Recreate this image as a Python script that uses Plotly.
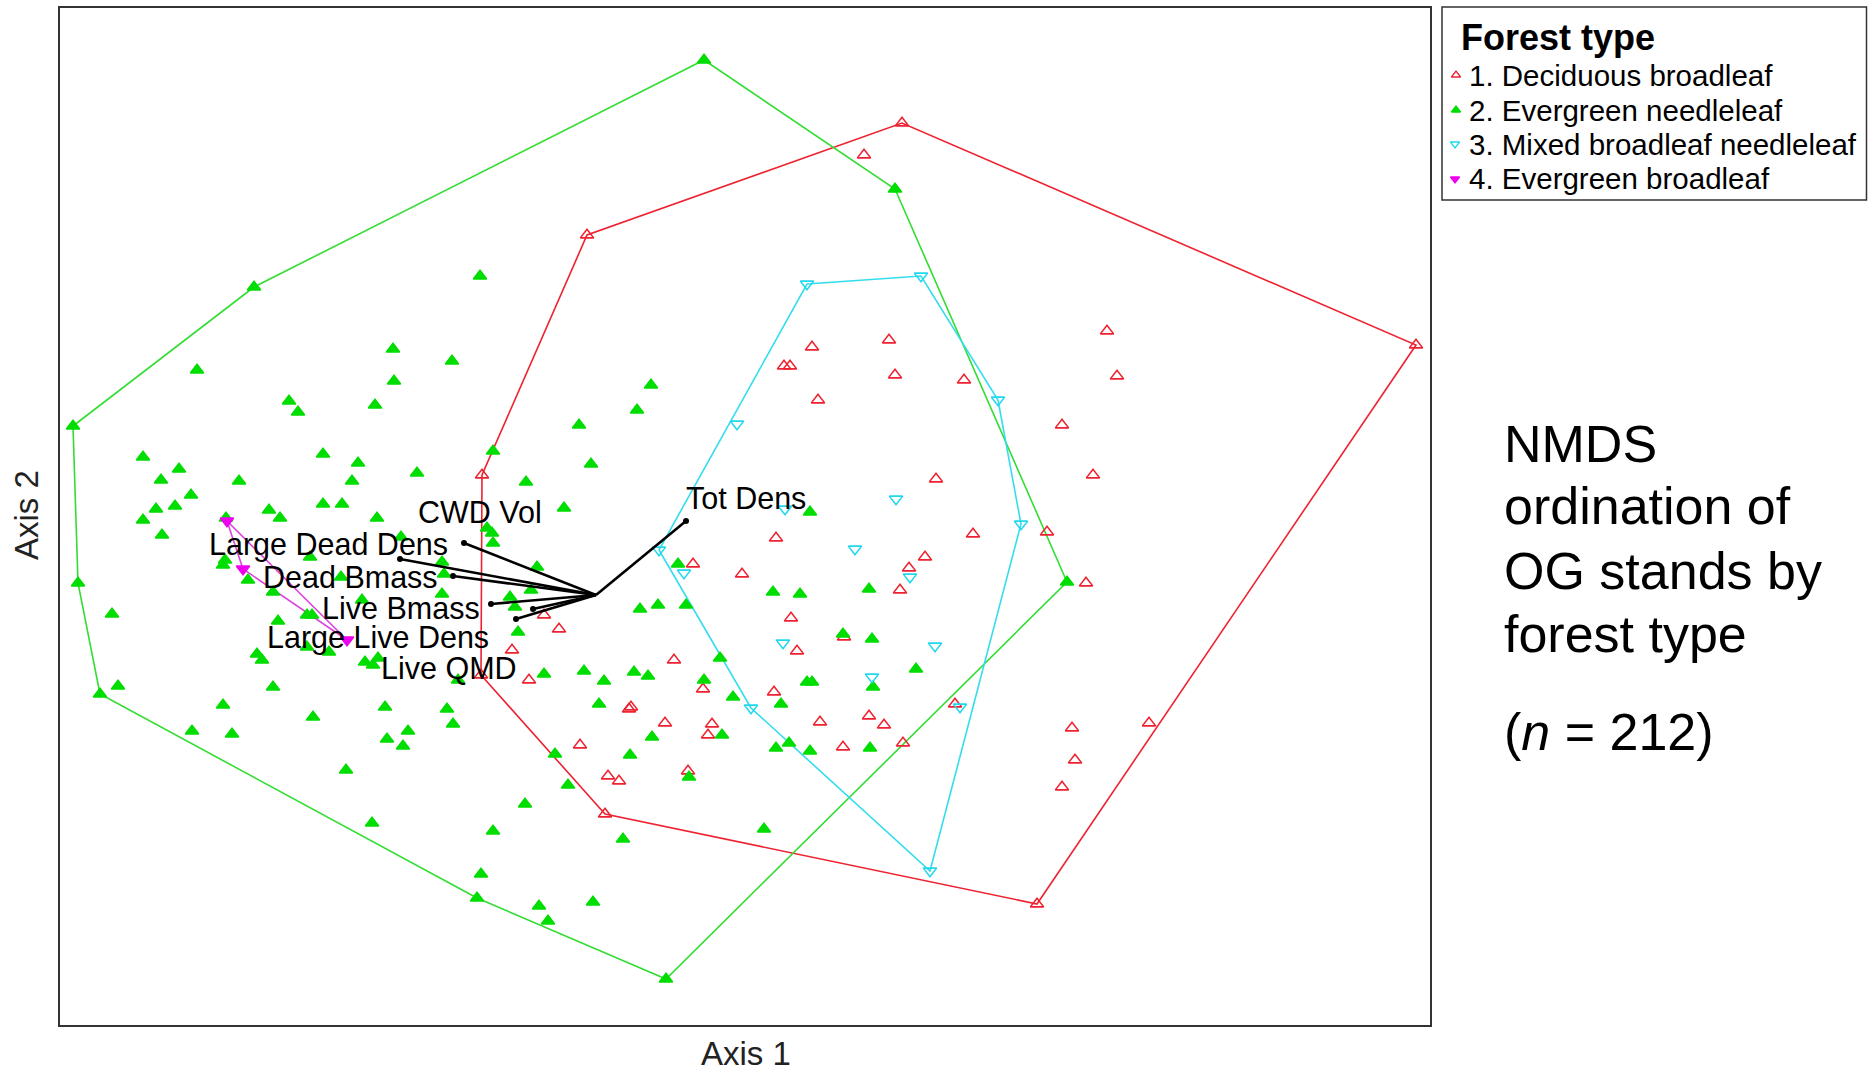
import plotly.graph_objects as go

W, H = 1868, 1072
FONT = "Liberation Sans, Arial, sans-serif"

# ---- NMDS site scores (axis 1, axis 2), grouped by forest type ----
decid_ax1 = [842, 804, 527, 829, 752, 1047, 1356, 1057, 1002, 1033,
             987, 913, 1026, 1012, 1089, 1015, 1002, 977, 724, 730,
             835, 904, 758, 876, 716, 865, 849, 840, 682, 633,
             731, 737, 784, 614, 469, 484, 499, 452, 422, 421,
             714, 643, 569, 571, 605, 652, 648, 520, 760, 809,
             824, 783, 843, 895, 548, 559, 628, 545]
decid_ax2 = [902, 870, 790, 685, 678, 694, 680, 649, 600, 550,
             493, 491, 442, 297, 302, 265, 238, 121, 659, 659,
             650, 645, 625, 546, 487, 468, 457, 435, 451, 461,
             407, 374, 388, 365, 345, 410, 396, 375, 550, 350,
             333, 336, 316, 318, 302, 301, 290, 280, 303, 309,
             300, 278, 282, 321, 249, 244, 254, 211]

needle_ax1 = [644, 835, 194, 420, 13, 137, 333, 392, 334, 229,
              238, 315, 83, 263, 298, 119, 101, 179, 292, 357,
              433, 131, 96, 115, 83, 102, 209, 220, 263, 282,
              317, 166, 427, 432, 433, 341, 165, 163, 188, 213,
              250, 382, 384, 281, 382, 247, 252, 302, 218, 450,
              455, 458, 247, 269, 197, 202, 305, 313, 318, 398,
              52, 18, 58, 213, 40, 163, 132, 172, 253, 325,
              387, 348, 327, 343, 393, 286, 312, 433, 421, 417,
              606, 479, 533, 488, 563, 704, 465, 508, 495, 570,
              629, 592, 662, 539, 673, 721, 729, 716, 750, 810,
              813, 747, 752, 644, 544, 524, 484, 574, 588, 660,
              856, 812, 783, 713, 740, 809, 580, 598, 626, 618,
              477, 471, 466, 504, 531, 519, 577, 591, 750, 1007]
needle_ax2 = [965, 836, 738, 749, 599, 655, 676, 664, 644, 624,
              613, 620, 568, 571, 562, 556, 545, 544, 544, 552,
              574, 530, 516, 519, 505, 490, 515, 507, 521, 521,
              507, 507, 497, 492, 482, 488, 465, 460, 445, 433,
              468, 463, 451, 448, 431, 410, 410, 425, 404, 428,
              418, 393, 378, 373, 371, 365, 363, 360, 367, 345,
              411, 442, 339, 338, 331, 320, 294, 291, 308, 318,
              316, 294, 286, 279, 301, 255, 202, 194, 151, 127,
              46, 119, 123, 104, 186, 196, 221, 240, 271, 270,
              248, 288, 290, 321, 328, 321, 282, 277, 274, 277,
              338, 343, 343, 345, 344, 354, 351, 353, 349, 367,
              356, 386, 391, 433, 431, 436, 416, 420, 420, 461,
              458, 435, 543, 517, 561, 600, 615, 640, 513, 443]

mixed_ax1 = [747, 861, 938, 961, 870, 691, 599, 677, 836, 725,
             795, 850, 624, 723, 875, 812, 900]
mixed_ax2 = [741, 749, 625, 501, 154, 317, 475, 601, 526, 516,
             476, 448, 452, 382, 379, 348, 318]

everbroad_ax1 = [167, 183, 287]
everbroad_ax2 = [504, 456, 385]

group_names = ["1. Deciduous broadleaf", "2. Evergreen needleleaf",
               "3. Mixed broadleaf needleleaf", "4. Evergreen broadleaf"]

# ---- structural variable vectors (joint plot) ----
vec_origin = (536, 430)
vec_names = ["Tot Dens", "CWD Vol", "Large Dead Dens", "Dead Bmass",
             "Live Bmass", "Large Live Dens", "Live QMD"]
vec_ax1 = [626, 404, 340, 393, 431, 456, 473]
vec_ax2 = [504, 482, 466, 449, 421, 406, 416]

n_plots = 212

# ---- styling ----
styles = [
    dict(symbol="triangle-up-open", color="#EE2230", line="#EE2230"),
    dict(symbol="triangle-up", color="#00DD00", line="#33DD33"),
    dict(symbol="triangle-down-open", color="#22D8EE", line="#33DDEE"),
    dict(symbol="triangle-down", color="#EE00EE", line="#DD44DD"),
]
# label placement relative to vector tips (pixels)
label_shift = {
    "Tot Dens": (60, 23), "CWD Vol": (16, 31), "Large Dead Dens": (-72, 15),
    "Dead Bmass": (-103, -1), "Live Bmass": (-90, -4),
    "Large Live Dens": (-138, -18), "Live QMD": (-84, -59),
}


def convex_hull(xs, ys):
    pts = sorted(set(zip(xs, ys)))
    if len(pts) < 3:
        return [p[0] for p in pts], [p[1] for p in pts]

    def cross(o, a, b):
        return (a[0] - o[0]) * (b[1] - o[1]) - (a[1] - o[1]) * (b[0] - o[0])

    lower, upper = [], []
    for p in pts:
        while len(lower) >= 2 and cross(lower[-2], lower[-1], p) <= 0:
            lower.pop()
        lower.append(p)
    for p in reversed(pts):
        while len(upper) >= 2 and cross(upper[-2], upper[-1], p) <= 0:
            upper.pop()
        upper.append(p)
    ring = lower[:-1] + upper[:-1]
    ring.append(ring[0])
    return [p[0] for p in ring], [p[1] for p in ring]


groups = [(decid_ax1, decid_ax2), (needle_ax1, needle_ax2),
          (mixed_ax1, mixed_ax2), (everbroad_ax1, everbroad_ax2)]

fig = go.Figure()

# hulls first so the points sit on top
for (gx, gy), st in zip(groups, styles):
    hx, hy = convex_hull(gx, gy)
    fig.add_trace(go.Scatter(x=hx, y=hy, mode="lines",
                             line=dict(color=st["line"], width=1.6),
                             hoverinfo="skip", showlegend=False))

for (gx, gy), st, name in zip(groups, styles, group_names):
    fig.add_trace(go.Scatter(
        x=gx, y=gy, mode="markers", name=name, showlegend=False,
        marker=dict(symbol=st["symbol"], size=11.5, color=st["color"],
                    line=dict(color=st["color"], width=1.6))))

# vectors from the centroid
for name, vx, vy in zip(vec_names, vec_ax1, vec_ax2):
    fig.add_trace(go.Scatter(
        x=[vec_origin[0], vx], y=[vec_origin[1], vy], mode="lines",
        line=dict(color="black", width=2.6), hoverinfo="skip",
        showlegend=False))
fig.add_trace(go.Scatter(
    x=vec_ax1, y=vec_ax2, mode="markers", showlegend=False,
    marker=dict(symbol="circle", size=6, color="black"),
    hoverinfo="skip"))

annotations = []
for name, vx, vy in zip(vec_names, vec_ax1, vec_ax2):
    dx, dy = label_shift[name]
    annotations.append(dict(
        x=vx, y=vy, xref="x", yref="y", text=name, showarrow=False,
        xshift=dx, yshift=dy, xanchor="center", yanchor="middle",
        font=dict(family=FONT, size=30.5, color="black")))

# ---- legend panel ----
legend_rows_y = [68, 103, 137, 172]
fig.add_trace(go.Scatter(
    x=[14, 14, 13, 13], y=legend_rows_y, mode="markers", xaxis="x2",
    yaxis="y2", showlegend=False, hoverinfo="skip",
    marker=dict(symbol=[s["symbol"] for s in styles], size=8,
                color=[s["color"] for s in styles],
                line=dict(color=[s["color"] for s in styles], width=1.3))))

annotations.append(dict(
    x=1459 / W, y=(H - 38) / H, xref="paper", yref="paper",
    text="<b>Forest type</b>", showarrow=False, xanchor="left",
    yanchor="middle", font=dict(family=FONT, size=36, color="black")))
for name, ry in zip(group_names, legend_rows_y):
    annotations.append(dict(
        x=1467 / W, y=(H - 7 - ry) / H, xref="paper", yref="paper",
        text=name, showarrow=False, xanchor="left", yanchor="middle",
        font=dict(family=FONT, size=29.5, color="black")))

# ---- side caption ----
caption_lines = [("NMDS", 444), ("ordination of", 506), ("OG stands by", 571),
                 ("forest type", 634), ("(<i>n</i> = %d)" % n_plots, 732)]
for txt, cy in caption_lines:
    annotations.append(dict(
        x=1502 / W, y=(H - cy) / H, xref="paper", yref="paper", text=txt,
        showarrow=False, xanchor="left", yanchor="middle",
        font=dict(family=FONT, size=52, color="black")))

# ---- axis titles ----
annotations.append(dict(
    x=746 / W, y=0, xref="paper", yref="paper", text="Axis 1",
    showarrow=False, xanchor="center", yanchor="bottom", yshift=-2,
    font=dict(family=FONT, size=33, color="#222")))
annotations.append(dict(
    x=26 / W, y=(H - 515) / H, xref="paper", yref="paper", text="Axis 2",
    showarrow=False, textangle=-90, xanchor="center", yanchor="middle",
    font=dict(family=FONT, size=33, color="#222")))

axis_common = dict(showticklabels=False, ticks="", showgrid=False,
                   zeroline=False, showline=True, mirror=True,
                   linecolor="#333", linewidth=2)

fig.update_layout(
    width=W, height=H, margin=dict(l=0, r=0, t=0, b=0),
    paper_bgcolor="white", plot_bgcolor="white",
    xaxis=dict(domain=[60 / W, 1430 / W], range=[0, 1370], **axis_common),
    yaxis=dict(domain=[47 / H, 1064 / H], range=[0, 1017], **axis_common),
    xaxis2=dict(domain=[1442 / W, 1867 / W], range=[0, 425], visible=False,
                anchor="y2"),
    yaxis2=dict(domain=[(H - 200) / H, (H - 7) / H], range=[193, 0],
                visible=False, anchor="x2"),
    shapes=[dict(type="rect", xref="paper", yref="paper",
                 x0=1442 / W, x1=1866.5 / W, y0=(H - 200) / H, y1=(H - 7) / H,
                 line=dict(color="#333", width=1.5))],
    annotations=annotations,
    showlegend=False,
)

fig.write_html("out.html")
